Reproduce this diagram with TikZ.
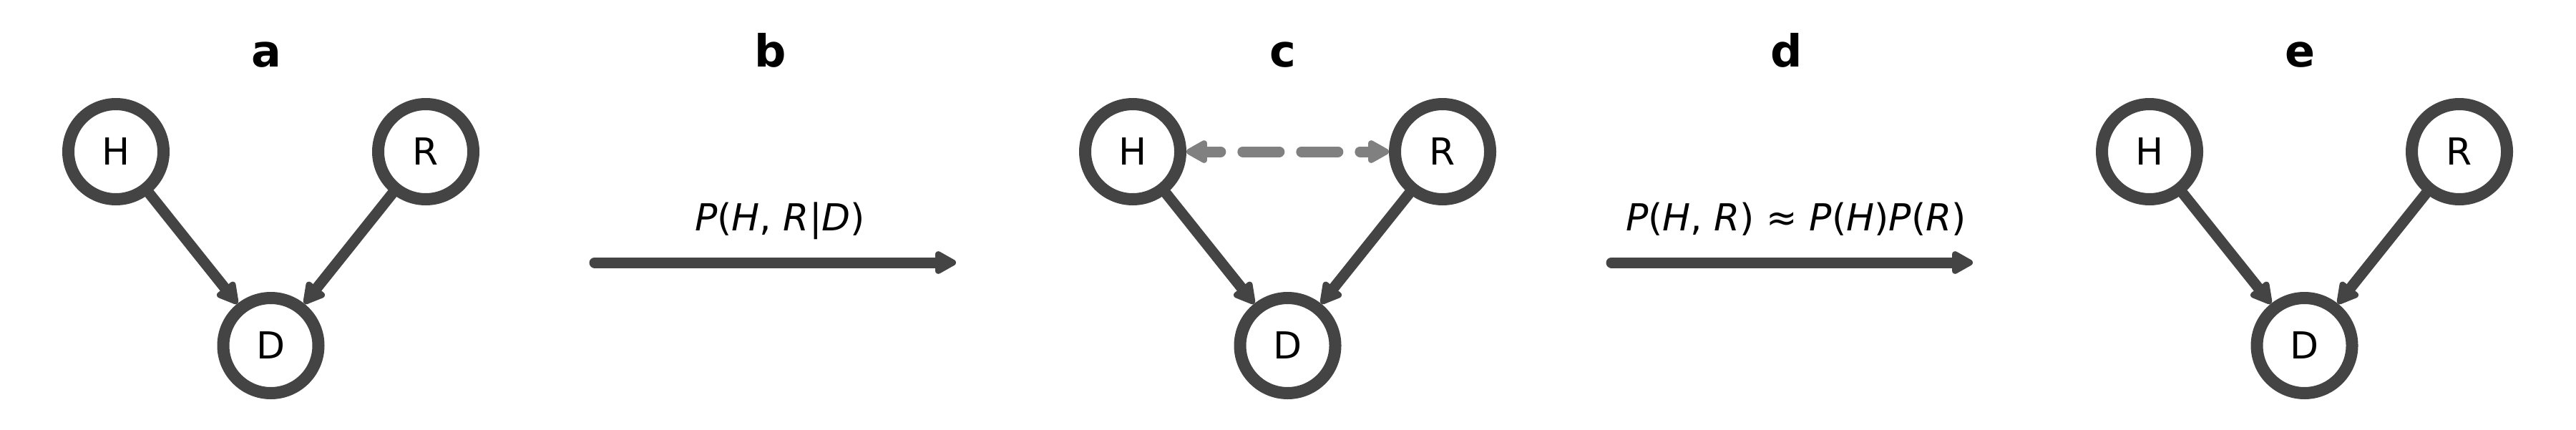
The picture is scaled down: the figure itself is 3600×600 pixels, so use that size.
\documentclass[tikz,border=0pt]{standalone}
\usepackage{fontspec}
\setmainfont{DejaVu Sans}
\usetikzlibrary{arrows.meta}
\definecolor{dg}{HTML}{444444}
\definecolor{mg}{HTML}{808080}
\tikzset{headtip/.tip={Triangle[length=34pt,width=35pt,round]}}
\begin{document}
\begin{tikzpicture}[x=1pt,y=-1pt,
  var/.style={circle, draw=dg, line width=17pt, minimum size=133pt, inner sep=0pt, fill=white, text=black, font=\fontsize{52}{60}\selectfont},
  conn/.style={draw=dg, line width=15pt, line cap=round, -headtip},
  bigarrow/.style={draw=dg, line width=15pt, line cap=round, -headtip},
  dashconn/.style={draw=mg, line width=15pt, line cap=round, dash pattern=on 51pt off 31pt, dash phase=30pt, headtip-headtip},
  panel/.style={anchor=base, font=\fontsize{62}{70}\selectfont\bfseries},
  formula/.style={anchor=base, font=\fontsize{52}{60}\selectfont}
]
\useasboundingbox (0,0) rectangle (3600,600);
% panel a
\node[panel] (la) at (372,93) {a};
\node[var] (aH) at (162,212) {H};
\node[var] (aR) at (595,212) {R};
\node[var] (aD) at (378.5,483) {D};
\draw[conn] (aH) -- (aD);
\draw[conn] (aR) -- (aD);
% panel b
\node[panel] (lb) at (1077,93) {b};
\coordinate (bs) at (831,367);
\coordinate (be) at (1336,367);
\draw[bigarrow] (bs) -- (be);
\node[formula] (fb) at (1090,322) {\textit{P}(\textit{H}, \textit{R}|\textit{D})};
% panel c
\node[panel] (lc) at (1793,93) {c};
\node[var] (cH) at (1583,212) {H};
\node[var] (cR) at (2016,212) {R};
\node[var] (cD) at (1799.5,483) {D};
\draw[conn] (cH) -- (cD);
\draw[conn] (cR) -- (cD);
\draw[dashconn] (cH) -- (cR);
% panel d
\node[panel] (ld) at (2497,93) {d};
\coordinate (ds) at (2252,367);
\coordinate (de) at (2757,367);
\draw[bigarrow] (ds) -- (de);
\node[formula] (fd) at (2510,322) {\textit{P}(\textit{H}, \textit{R}) ≈ \textit{P}(\textit{H})\textit{P}(\textit{R})};
% panel e
\node[panel] (le) at (3214,93) {e};
\node[var] (eH) at (3004,212) {H};
\node[var] (eR) at (3437,212) {R};
\node[var] (eD) at (3220.5,483) {D};
\draw[conn] (eH) -- (eD);
\draw[conn] (eR) -- (eD);
\end{tikzpicture}
\end{document}
